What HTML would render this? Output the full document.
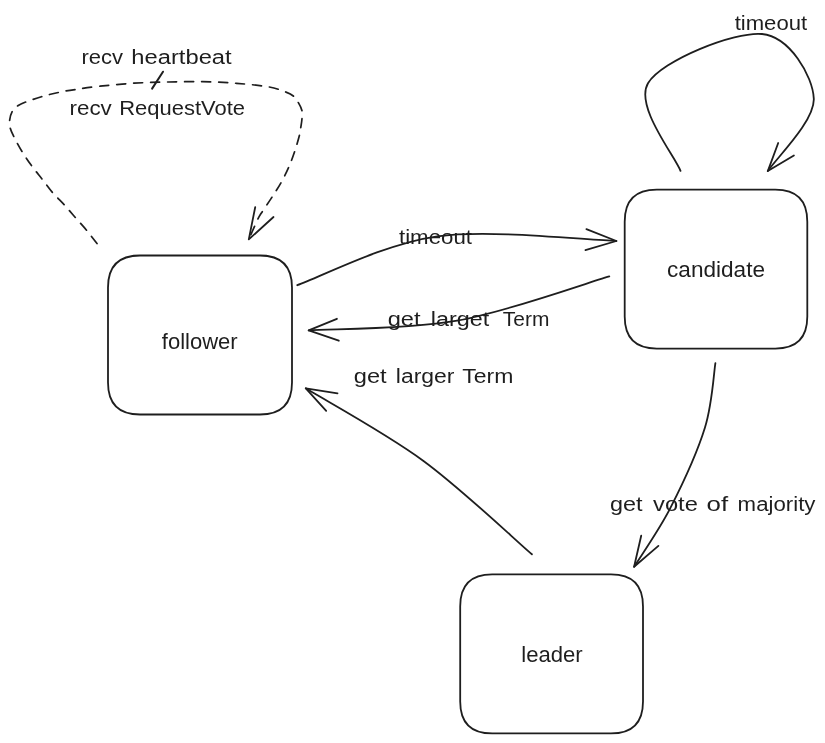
<!DOCTYPE html>
<html><head><meta charset="utf-8"><style>
html,body{margin:0;padding:0;background:#fff;width:825px;height:743px;overflow:hidden}
svg{display:block}
text{font-family:"Liberation Sans",sans-serif;fill:#1e1e1e;stroke:#1e1e1e;stroke-width:0px}
svg{will-change:transform}
</style></head><body>
<svg width="825" height="743" viewBox="0 0 825 743">
<path d="M140.0,255.5 L260.0,255.5 Q292.0,255.5 292.0,287.5 L292.0,382.5 Q292.0,414.5 260.0,414.5 L140.0,414.5 Q108.0,414.5 108.0,382.5 L108.0,287.5 Q108.0,255.5 140.0,255.5 Z" fill="none" stroke="#1e1e1e" stroke-width="1.8" stroke-linecap="round" stroke-linejoin="round"/>
<path d="M656.7,189.7 L775.3,189.7 Q807.3,189.7 807.3,221.7 L807.3,316.6 Q807.3,348.6 775.3,348.6 L656.7,348.6 Q624.7,348.6 624.7,316.6 L624.7,221.7 Q624.7,189.7 656.7,189.7 Z" fill="none" stroke="#1e1e1e" stroke-width="1.8" stroke-linecap="round" stroke-linejoin="round"/>
<path d="M492.2,574.4 L611.0,574.4 Q643.0,574.4 643.0,606.4 L643.0,701.4 Q643.0,733.4 611.0,733.4 L492.2,733.4 Q460.2,733.4 460.2,701.4 L460.2,606.4 Q460.2,574.4 492.2,574.4 Z" fill="none" stroke="#1e1e1e" stroke-width="1.8" stroke-linecap="round" stroke-linejoin="round"/>
<path d="M97.00,243.60 C95.27,241.38 90.18,234.62 86.60,230.30 C83.02,225.98 79.20,221.92 75.50,217.70 C71.80,213.48 68.22,209.18 64.40,205.00 C60.58,200.82 56.30,196.90 52.60,192.60 C48.90,188.30 45.67,183.63 42.20,179.20 C38.73,174.77 35.13,170.57 31.80,166.00 C28.47,161.43 25.17,156.63 22.20,151.80 C19.23,146.97 16.00,140.97 14.00,137.00 C12.00,133.03 10.92,130.87 10.20,128.00 C9.48,125.13 9.33,122.60 9.70,119.80 C10.07,117.00 11.05,113.53 12.40,111.20 C13.75,108.87 15.57,107.33 17.80,105.80 C20.03,104.27 21.87,103.52 25.80,102.00 C29.73,100.48 35.92,98.30 41.40,96.70 C46.88,95.10 53.05,93.60 58.70,92.40 C64.35,91.20 68.42,90.53 75.30,89.50 C82.18,88.47 90.22,87.25 100.00,86.20 C109.78,85.15 122.67,83.90 134.00,83.20 C145.33,82.50 156.60,82.25 168.00,82.00 C179.40,81.75 190.98,81.48 202.40,81.70 C213.82,81.92 225.35,82.42 236.50,83.30 C247.65,84.18 261.05,85.53 269.30,87.00 C277.55,88.47 282.00,90.60 286.00,92.10 C290.00,93.60 291.22,94.20 293.30,96.00 C295.38,97.80 297.05,100.45 298.50,102.90 C299.95,105.35 301.42,108.10 302.00,110.70 C302.58,113.30 302.20,115.73 302.00,118.50 C301.80,121.27 301.22,124.55 300.80,127.30 C300.38,130.05 300.53,130.93 299.50,135.00 C298.47,139.07 296.40,146.32 294.60,151.70 C292.80,157.08 290.97,162.12 288.70,167.30 C286.43,172.48 283.92,177.62 281.00,182.80 C278.08,187.98 274.47,193.37 271.20,198.40 C267.93,203.43 263.68,209.42 261.40,213.00 C259.12,216.58 259.60,215.50 257.50,219.90 C255.40,224.30 250.25,236.15 248.80,239.40" fill="none" stroke="#1e1e1e" stroke-width="1.7" stroke-linecap="round" stroke-linejoin="round" stroke-dasharray="9 8" stroke-linecap="butt"/>
<path d="M255.2,207.2 L248.8,239.4 L273.5,217.0" fill="none" stroke="#1e1e1e" stroke-width="1.8" stroke-linecap="round" stroke-linejoin="round"/>
<path d="M152.1,88.6 L163,71.7" fill="none" stroke="#1e1e1e" stroke-width="2" stroke-linecap="round" stroke-linejoin="round"/>
<path d="M680.50,170.90 C675.08,156.30 634.43,106.12 648.00,83.30 C661.57,60.48 734.27,31.45 761.90,34.00 C789.53,36.55 812.82,75.75 813.80,98.60 C814.78,121.45 775.47,159.02 767.80,171.10" fill="none" stroke="#1e1e1e" stroke-width="1.8" stroke-linecap="round" stroke-linejoin="round"/>
<path d="M778.2,143.0 L767.8,171.1 L793.9,155.5" fill="none" stroke="#1e1e1e" stroke-width="1.8" stroke-linecap="round" stroke-linejoin="round"/>
<path d="M297.30,285.20 C320.63,277.05 384.12,243.67 437.30,236.30 C490.48,228.93 586.55,240.22 616.40,241.00" fill="none" stroke="#1e1e1e" stroke-width="1.8" stroke-linecap="round" stroke-linejoin="round"/>
<path d="M586.4,229.1 L616.4,241.0 L585.4,250.1" fill="none" stroke="#1e1e1e" stroke-width="1.8" stroke-linecap="round" stroke-linejoin="round"/>
<path d="M609.30,276.40 C583.93,283.78 507.20,311.70 457.10,320.70 C407.00,329.70 333.43,328.78 308.70,330.40" fill="none" stroke="#1e1e1e" stroke-width="1.8" stroke-linecap="round" stroke-linejoin="round"/>
<path d="M336.9,318.8 L308.7,330.4 L338.8,340.7" fill="none" stroke="#1e1e1e" stroke-width="1.8" stroke-linecap="round" stroke-linejoin="round"/>
<path d="M715.40,363.10 C713.65,373.88 712.33,403.78 704.90,427.80 C697.47,451.82 682.60,484.03 670.80,507.20 C659.00,530.37 640.22,556.87 634.10,566.80" fill="none" stroke="#1e1e1e" stroke-width="1.8" stroke-linecap="round" stroke-linejoin="round"/>
<path d="M641.2,535.7 L634.1,566.8 L658.4,545.9" fill="none" stroke="#1e1e1e" stroke-width="1.8" stroke-linecap="round" stroke-linejoin="round"/>
<path d="M531.90,554.30 C513.83,538.73 461.18,488.57 423.50,460.90 C385.82,433.23 325.42,400.40 305.80,388.30" fill="none" stroke="#1e1e1e" stroke-width="1.8" stroke-linecap="round" stroke-linejoin="round"/>
<path d="M337.5,393.4 L305.8,388.3 L326.2,410.8" fill="none" stroke="#1e1e1e" stroke-width="1.8" stroke-linecap="round" stroke-linejoin="round"/>
<text x="81.55" y="64.0" font-size="19.5" textLength="41.54" lengthAdjust="spacingAndGlyphs">recv</text>
<text x="131.36" y="64.0" font-size="19.5" textLength="100.29" lengthAdjust="spacingAndGlyphs">heartbeat</text>
<text x="69.52" y="114.5" font-size="19.5" textLength="42.27" lengthAdjust="spacingAndGlyphs">recv</text>
<text x="119.20" y="114.5" font-size="19.5" textLength="125.78" lengthAdjust="spacingAndGlyphs">RequestVote</text>
<text x="734.67" y="29.5" font-size="19.5" textLength="72.49" lengthAdjust="spacingAndGlyphs">timeout</text>
<text x="398.97" y="244.0" font-size="19.5" textLength="73.00" lengthAdjust="spacingAndGlyphs">timeout</text>
<text x="387.71" y="325.5" font-size="19.5" textLength="32.86" lengthAdjust="spacingAndGlyphs">get</text>
<text x="430.84" y="325.5" font-size="19.5" textLength="58.42" lengthAdjust="spacingAndGlyphs">larget</text>
<text x="502.84" y="325.5" font-size="19.5" textLength="46.55" lengthAdjust="spacingAndGlyphs">Term</text>
<text x="353.81" y="382.7" font-size="19.5" textLength="32.86" lengthAdjust="spacingAndGlyphs">get</text>
<text x="395.86" y="382.7" font-size="19.5" textLength="58.62" lengthAdjust="spacingAndGlyphs">larger</text>
<text x="462.29" y="382.7" font-size="19.5" textLength="51.13" lengthAdjust="spacingAndGlyphs">Term</text>
<text x="609.92" y="511.0" font-size="19.5" textLength="32.55" lengthAdjust="spacingAndGlyphs">get</text>
<text x="653.11" y="511.0" font-size="19.5" textLength="44.74" lengthAdjust="spacingAndGlyphs">vote</text>
<text x="706.61" y="511.0" font-size="19.5" textLength="21.56" lengthAdjust="spacingAndGlyphs">of</text>
<text x="737.63" y="511.0" font-size="19.5" textLength="77.80" lengthAdjust="spacingAndGlyphs">majority</text>
<text x="161.79" y="349.0" font-size="22" textLength="75.88" lengthAdjust="spacingAndGlyphs">follower</text>
<text x="667.05" y="276.9" font-size="22" textLength="97.94" lengthAdjust="spacingAndGlyphs">candidate</text>
<text x="521.22" y="661.5" font-size="22" textLength="61.45" lengthAdjust="spacingAndGlyphs">leader</text>
</svg></body></html>
